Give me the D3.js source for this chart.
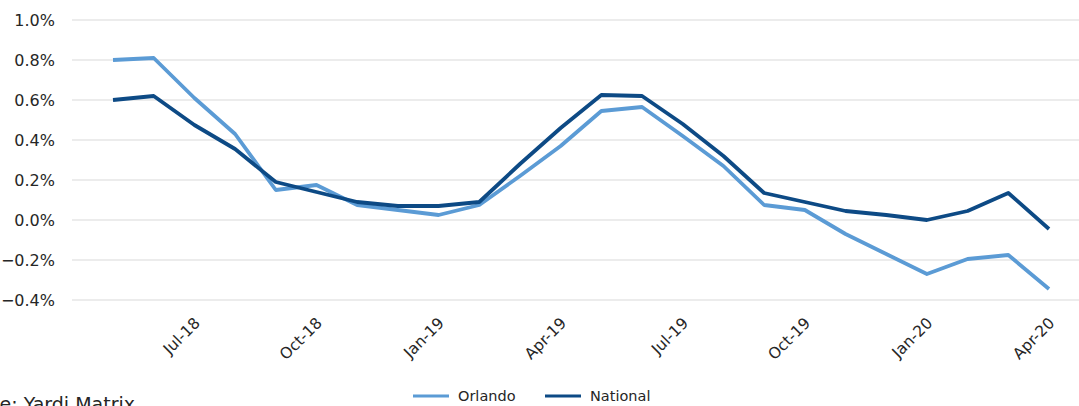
<!DOCTYPE html>
<html>
<head>
<meta charset="utf-8">
<script src="https://cdn.jsdelivr.net/npm/d3@7"></script>
<style>
  html, body { margin: 0; padding: 0; background: #fff; }
  svg { display: block; font-family: "DejaVu Sans", "Noto Sans", sans-serif; }
</style>
</head>
<body>
<svg id="chart" width="1079" height="406"></svg>
<script>
// Monthly rent growth, May-18 to Apr-20
const months = ["May-18","Jun-18","Jul-18","Aug-18","Sep-18","Oct-18","Nov-18","Dec-18",
  "Jan-19","Feb-19","Mar-19","Apr-19","May-19","Jun-19","Jul-19","Aug-19","Sep-19","Oct-19",
  "Nov-19","Dec-19","Jan-20","Feb-20","Mar-20","Apr-20"];
const orlando = [0.80, 0.81, 0.61, 0.43, 0.15, 0.175, 0.075, 0.05, 0.025, 0.075, 0.22, 0.37,
  0.545, 0.565, 0.42, 0.27, 0.075, 0.05, -0.07, -0.17, -0.27, -0.195, -0.175, -0.345];
const national = [0.60, 0.62, 0.475, 0.355, 0.19, 0.14, 0.09, 0.07, 0.07, 0.09, 0.28, 0.46,
  0.625, 0.62, 0.48, 0.32, 0.135, 0.09, 0.045, 0.025, 0.0, 0.045, 0.135, -0.045];
const yTicks = [-0.4, -0.2, 0.0, 0.2, 0.4, 0.6, 0.8, 1.0];
const xTickLabels = ["Jul-18","Oct-18","Jan-19","Apr-19","Jul-19","Oct-19","Jan-20","Apr-20"];
const seriesNames = ["Orlando", "National"];
const colors = { Orlando: "#5b9bd5", National: "#0d4a85" };

const FONT = "'DejaVu Sans', 'Noto Sans', sans-serif";
const TEXT = "#262626";

const svg = d3.select("#chart");
const gridLeft = 72, gridRight = 1079;

const x = d3.scalePoint().domain(months).range([113, 1049]);
const y = d3.scaleLinear().domain([-0.4, 1.0]).range([300, 20]);

// horizontal gridlines
svg.append("g")
  .selectAll("line")
  .data(yTicks)
  .join("line")
  .attr("x1", gridLeft).attr("x2", gridRight)
  .attr("y1", d => y(d)).attr("y2", d => y(d))
  .attr("stroke", "#d9d9d9").attr("stroke-width", 1.2);

// y axis labels
const yAxis = d3.axisLeft(y).tickValues(yTicks).tickSize(0).tickPadding(0)
  .tickFormat(d => d3.format(".1f")(d) + "%");
svg.append("g")
  .attr("transform", "translate(55,0)")
  .call(yAxis)
  .call(g => g.select(".domain").remove())
  .call(g => g.selectAll("text")
    .attr("font-family", FONT)
    .attr("font-size", 16).attr("fill", TEXT));

// x axis labels, rotated
const xAxis = d3.axisBottom(x).tickValues(xTickLabels).tickSize(0).tickPadding(0);
svg.append("g")
  .attr("transform", "translate(0,300)")
  .call(xAxis)
  .call(g => g.select(".domain").remove())
  .call(g => g.selectAll("text")
    .attr("font-family", FONT)
    .attr("font-size", 15.5).attr("fill", TEXT)
    .attr("text-anchor", "end")
    .attr("dy", "0")
    .attr("transform", "translate(6,24) rotate(-45)"));

// series lines
const line = d3.line()
  .x((d, i) => x(months[i]))
  .y(d => y(d));

const data = { Orlando: orlando, National: national };
svg.append("g")
  .selectAll("path")
  .data(seriesNames)
  .join("path")
  .attr("d", name => line(data[name]))
  .attr("fill", "none")
  .attr("stroke", name => colors[name])
  .attr("stroke-width", 3.8)
  .attr("stroke-linejoin", "round");

// legend
const legend = svg.append("g");
const legendItems = [
  { name: "Orlando", x: 413 },
  { name: "National", x: 545 }
];
legendItems.forEach(item => {
  legend.append("line")
    .attr("x1", item.x).attr("x2", item.x + 36)
    .attr("y1", 396).attr("y2", 396)
    .attr("stroke", colors[item.name]).attr("stroke-width", 3);
  legend.append("text")
    .attr("x", item.x + 45).attr("y", 401)
    .attr("font-family", FONT)
    .attr("font-size", 14.5).attr("fill", TEXT)
    .text(item.name);
});

// source note
svg.append("text")
  .attr("x", 135).attr("y", 411)
  .attr("text-anchor", "end")
  .attr("font-family", FONT)
  .attr("font-size", 19).attr("fill", TEXT)
  .text("Source: Yardi Matrix");
</script>
</body>
</html>
